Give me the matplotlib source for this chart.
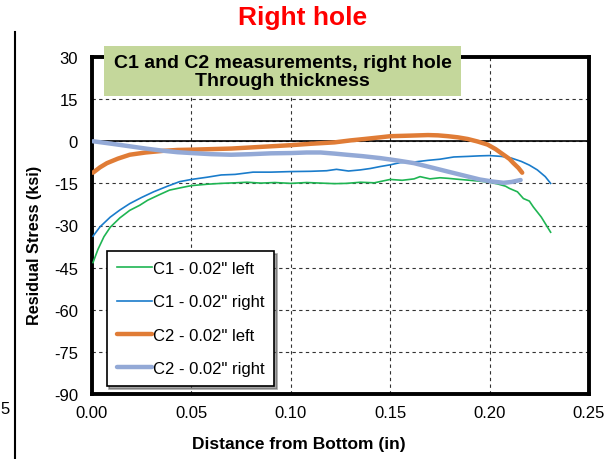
import matplotlib
matplotlib.use("Agg")
import matplotlib.pyplot as plt
from matplotlib.patches import Rectangle

plt.rcParams['font.family'] = ['Liberation Sans', 'DejaVu Sans']

# C1 - 0.02" left
c1_left_x = [0.0005, 0.0030, 0.0060, 0.0092, 0.0140, 0.0190, 0.0240, 0.0280, 0.0340, 0.0390,
             0.0450, 0.0500, 0.0580, 0.0650, 0.0720, 0.0780, 0.0850, 0.0920, 0.1000, 0.1080,
             0.1150, 0.1220, 0.1280, 0.1350, 0.1420, 0.1500, 0.1560, 0.1620, 0.1650, 0.1700,
             0.1750, 0.1790, 0.1850, 0.1900, 0.1950, 0.2000, 0.2040, 0.2080, 0.2100, 0.2140,
             0.2170, 0.2200, 0.2220, 0.2260, 0.2307]
c1_left_y = [-43.2, -38.5, -34.0, -30.6, -27.3, -24.6, -22.8, -21.0, -19.0, -17.4,
             -16.5, -15.8, -15.3, -15.0, -14.8, -14.6, -14.9, -14.7, -15.0, -14.7,
             -14.9, -15.1, -15.0, -14.6, -14.8, -13.6, -13.9, -13.4, -12.6, -13.4,
             -13.0, -13.2, -13.6, -13.9, -14.2, -14.6, -15.2, -16.0, -16.8, -18.0,
             -20.4, -21.3, -23.4, -27.0, -32.4]

# C1 - 0.02" right
c1_right_x = [0.0005, 0.0040, 0.0092, 0.0140, 0.0190, 0.0250, 0.0310, 0.0380, 0.0440, 0.0500,
              0.0580, 0.0650, 0.0720, 0.0810, 0.0900, 0.1000, 0.1100, 0.1180, 0.1230, 0.1290,
              0.1350, 0.1400, 0.1450, 0.1500, 0.1550, 0.1620, 0.1690, 0.1750, 0.1820, 0.1890,
              0.1950, 0.2000, 0.2060, 0.2110, 0.2160, 0.2200, 0.2240, 0.2280, 0.2307]
c1_right_y = [-33.8, -30.5, -27.0, -24.5, -22.2, -20.0, -18.0, -16.0, -14.4, -13.6,
              -12.8, -12.0, -11.8, -11.0, -11.0, -10.8, -10.7, -10.5, -10.0, -10.6,
              -10.2, -9.7, -9.0, -8.4, -7.6, -7.4, -6.8, -6.4, -5.6, -5.4,
              -5.2, -5.1, -5.4, -6.0, -7.2, -8.5, -10.2, -12.6, -15.0]

# C2 - 0.02" left
c2_left_x = [0.0005, 0.0040, 0.0075, 0.0130, 0.0190, 0.0270, 0.0360, 0.0430, 0.0500, 0.0600,
             0.0700, 0.0800, 0.0900, 0.1000, 0.1100, 0.1220, 0.1300, 0.1370, 0.1450, 0.1500,
             0.1600, 0.1690, 0.1740, 0.1790, 0.1840, 0.1890, 0.1940, 0.1990, 0.2030, 0.2070,
             0.2100, 0.2120, 0.2145, 0.2164]
c2_left_y = [-11.2, -9.3, -7.8, -6.2, -4.8, -4.0, -3.4, -3.1, -3.0, -2.8,
             -2.6, -2.2, -1.8, -1.4, -0.9, -0.4, 0.3, 0.8, 1.4, 1.8,
             2.0, 2.2, 2.1, 1.8, 1.4, 0.8, -0.1, -1.2, -2.8, -4.8,
             -6.3, -7.8, -9.5, -11.2]

# C2 - 0.02" right
c2_right_x = [0.0005, 0.0100, 0.0190, 0.0280, 0.0360, 0.0430, 0.0500, 0.0600, 0.0700, 0.0800,
              0.0900, 0.1000, 0.1080, 0.1150, 0.1220, 0.1280, 0.1360, 0.1450, 0.1540, 0.1620,
              0.1700, 0.1790, 0.1870, 0.1950, 0.2010, 0.2070, 0.2110, 0.2156]
c2_right_y = [0.0, -0.9, -1.8, -2.7, -3.4, -3.9, -4.2, -4.6, -4.8, -4.6,
              -4.3, -4.2, -4.0, -4.0, -4.4, -4.8, -5.3, -6.0, -6.9, -7.8,
              -9.2, -10.8, -12.2, -13.6, -14.3, -14.8, -14.5, -13.8]

x_ticks = [0.00, 0.05, 0.10, 0.15, 0.20, 0.25]
y_ticks = [-90, -75, -60, -45, -30, -15, 0, 15, 30]

W, H = 607, 460
fig = plt.figure(figsize=(W / 100, H / 100), dpi=100)
ax = fig.add_axes([92 / W, 1 - 395 / H, (589 - 92) / W, (395 - 58) / H])

ax.plot(c1_left_x, c1_left_y, color='#1FB553', lw=1.2, label='C1 - 0.02" left', zorder=3)
ax.plot(c1_right_x, c1_right_y, color='#1A7CCB', lw=1.2, label='C1 - 0.02" right', zorder=3)
ax.plot(c2_left_x, c2_left_y, color='#E07C36', lw=3.2, label='C2 - 0.02" left',
        solid_capstyle='round', zorder=4)
ax.plot(c2_right_x, c2_right_y, color='#93A9D6', lw=3.2, label='C2 - 0.02" right',
        solid_capstyle='round', zorder=4)

ax.set_xlim(0, 0.25)
ax.set_ylim(-90, 30)
ax.set_xticks(x_ticks)
ax.set_yticks(y_ticks)
ax.set_xticklabels([f"{v:.2f}" for v in x_ticks])
ax.set_yticklabels([str(v) for v in y_ticks])
ax.tick_params(length=0, labelsize=12)
ax.tick_params(axis='y', pad=10)
ax.tick_params(axis='x', pad=8)
ax.grid(True, color='#333333', linestyle=(0, (3, 3)), linewidth=0.8)
ax.axhline(0, color='black', lw=1.2, zorder=2)
for s in ax.spines.values():
    s.set_linewidth(2.8)
    s.set_color('black')

ax.set_xlabel('Distance from Bottom (in)', fontsize=12.5, fontweight='bold')
ax.set_ylabel('Residual Stress (ksi)', fontsize=11.7, fontweight='bold')
ax.xaxis.set_label_coords((299 - 92) / 497, (395 - 437) / 337)
ax.yaxis.set_label_coords((42 - 92) / 497, (395 - 245) / 337)

leg = ax.legend(loc='lower left', bbox_to_anchor=(0.0296, 0.0237), borderaxespad=0,
                fontsize=12, frameon=True, fancybox=False, shadow=True,
                handlelength=2.1, labelspacing=1.1, borderpad=0.6,
                handletextpad=0.05)
leg.get_frame().set_edgecolor('black')
leg.get_frame().set_linewidth(1.2)

# green caption box, drawn over the top spine
ax.add_patch(Rectangle((104 / W, 1 - 97 / H), (461 - 104) / W, (97 - 47) / H,
                       transform=fig.transFigure, facecolor='#C4D79B',
                       edgecolor='none', clip_on=False, zorder=5))
fig.text(282.5 / W, 1 - 72.5 / H, 'C1 and C2 measurements, right hole\nThrough thickness',
         ha='center', va='center', fontsize=14, fontweight='bold',
         linespacing=1.15, zorder=6)

fig.text(303 / W, 1 - 18 / H, 'Right hole', ha='center', va='center',
         color='#FF0000', fontsize=19, fontweight='bold')

# thin divider and stray label at the left edge
fig.add_artist(plt.Line2D([14.5 / W, 14.5 / W], [0, 1 - 33 / H],
                          color='black', lw=1.5, transform=fig.transFigure))
fig.text(5 / W, 1 - 410 / H, '5', ha='center', va='center', fontsize=12)

fig.savefig('out.png', dpi=100)
